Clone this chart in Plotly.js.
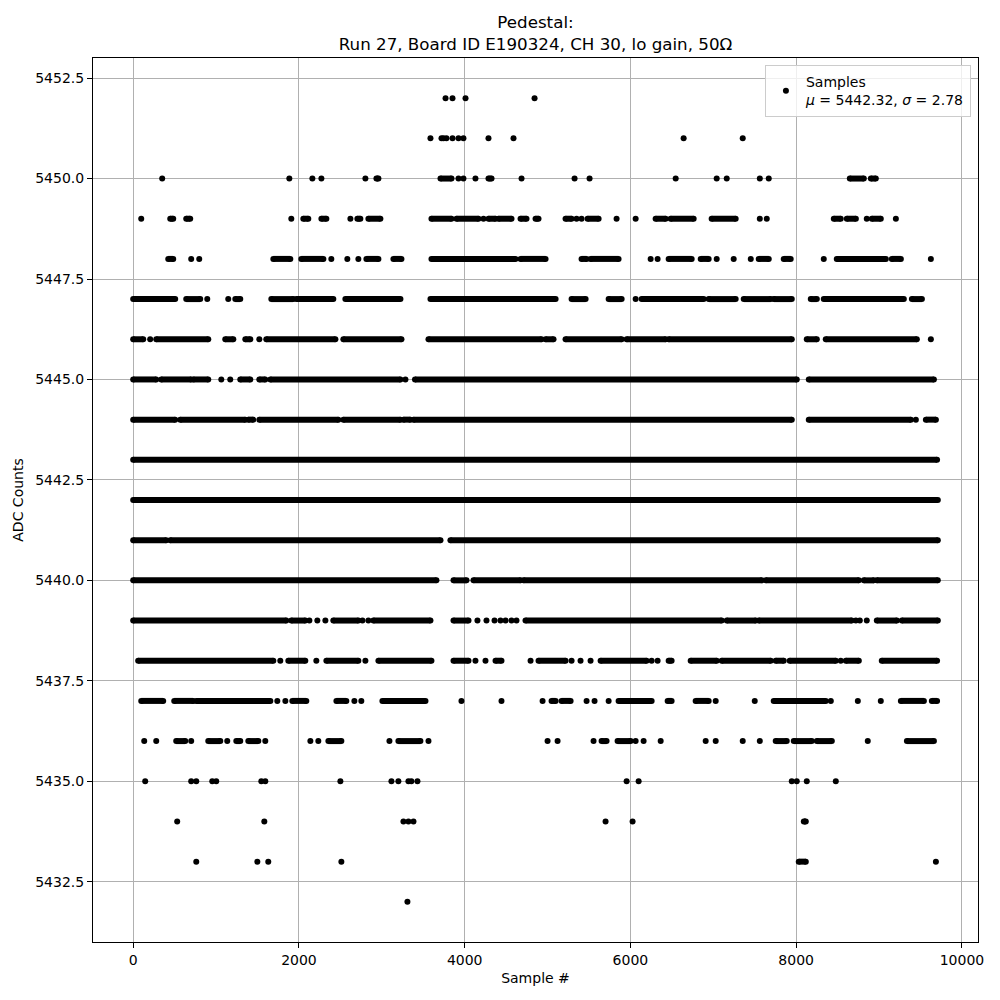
<!DOCTYPE html>
<html>
<head>
<meta charset="utf-8">
<script src="https://cdn.plot.ly/plotly-3.0.1.min.js"></script>
<style>html,body{margin:0;padding:0;background:#fff;}#plot{width:1000px;height:1000px;}</style>
</head>
<body>
<div id="plot"></div>
<script>
// ADC levels (counts) and, for each level, runs of sample indices [first, last]
const levels = [5452,5451,5450,5449,5448,5447,5446,5445,5444,5443,5442,5441,5440,5439,5438,5437,5436,5435,5434,5433,5432];

const runs5452 = [[3769,3769],[3853,3853],[4010,4010],[4843,4843]];
const runs5451 = [[3587,3587],[3720,3720],[3744,3744],[3780,3780],[3853,3853],[3925,3925],[3985,3985],[4287,4287],[4589,4589],[6642,6642],[7355,7355]];
const runs5450 = [[350,350],[1884,1884],[2162,2162],[2271,2271],[2802,2802],[2935,2959],[3708,3841],[3925,3925],[3985,3985],[4130,4130],[4287,4324],[4686,4686],[5326,5326],[5507,5507],[6546,6546],[7041,7041],[7162,7162],[7561,7561],[7669,7669],[8647,8816],[8901,8961]];
const runs5449 = [[97,97],[447,483],[640,688],[1908,1908],[2053,2113],[2271,2331],[2621,2621],[2705,2741],[2838,2983],[3599,3841],[3901,4167],[4227,4227],[4287,4372],[4408,4565],[4674,4746],[4855,4891],[5217,5290],[5350,5350],[5410,5410],[5483,5616],[5833,5833],[6063,6063],[6304,6425],[6485,6763],[6980,7270],[7561,7561],[7645,7645],[8454,8538],[8611,8720],[8852,8852],[8913,9021],[9203,9203]];
const runs5448 = [[423,483],[700,700],[797,797],[1691,1896],[2029,2295],[2391,2391],[2584,2584],[2717,2717],[2814,2959],[3140,3237],[3599,4613],[4674,4976],[5410,5471],[5519,5857],[6244,6244],[6328,6328],[6461,6739],[6848,6944],[7041,7041],[7246,7246],[7452,7452],[7548,7669],[7850,7934],[8333,8333],[8490,9082],[9154,9263],[9625,9625]];
const runs5447 = [[0,507],[640,809],[894,894],[1147,1147],[1232,1292],[1667,1932],[1969,2415],[2560,3225],[3587,5097],[5290,5459],[5737,5894],[6063,6063],[6135,6884],[6944,7270],[7367,7693],[7729,7947],[8176,8249],[8333,9299],[9396,9517]];
const runs5446 = [[0,121],[205,205],[278,906],[1111,1208],[1353,1413],[1522,1522],[1606,2440],[2536,3237],[3563,4927],[4976,5072],[5217,5894],[5954,6425],[6461,7947],[8128,8249],[8357,9456],[9625,9625]];
const runs5445 = [[0,278],[338,700],[725,906],[1063,1063],[1171,1171],[1292,1413],[1522,1594],[1655,3225],[3285,3285],[3400,8007],[8152,9662]];
const runs5444 = [[0,507],[568,1353],[1389,1449],[1522,2476],[2536,3225],[3261,3345],[3382,7947],[8152,9384],[9444,9444],[9565,9686]];
const runs5443 = [[0,9700]];
const runs5442 = [[0,9709]];
const runs5441 = [[0,399],[447,3708],[3828,9709]];
const runs5440 = [[0,3659],[3865,4022],[4106,4674],[4710,7585],[7633,8756],[8816,8937],[8973,9709]];
const runs5439 = [[0,1848],[1908,2077],[2126,2126],[2222,2222],[2319,2319],[2415,2717],[2766,2766],[2838,2838],[2898,3587],[3865,4046],[4154,4154],[4263,4263],[4360,4360],[4432,4432],[4493,4493],[4565,4565],[4625,4625],[4734,7101],[7162,7512],[7548,8671],[8720,8720],[8768,8768],[8852,8852],[8973,9215],[9275,9709]];
const runs5438 = [[60,1691],[1775,1775],[1872,2077],[2210,2210],[2331,2717],[2802,2802],[2959,3599],[3865,4046],[4130,4130],[4251,4251],[4372,4444],[4795,4795],[4891,5217],[5290,5290],[5398,5398],[5519,5519],[5640,6195],[6256,6256],[6328,6328],[6461,6497],[6727,7041],[7101,7693],[7753,7850],[7922,8478],[8538,8538],[8599,8756],[9033,9700]];
const runs5437 = [[97,362],[495,725],[761,1655],[1739,1739],[1836,1836],[1920,2089],[2452,2572],[2669,2669],[2753,2753],[3007,3527],[3961,3961],[4444,4444],[4940,4940],[5048,5097],[5169,5278],[5471,5471],[5567,5567],[5737,5737],[5857,6256],[6449,6497],[6787,6944],[7029,7029],[7500,7500],[7729,8357],[8418,8418],[8744,8744],[9021,9021],[9263,9541],[9637,9700]];
const runs5436 = [[133,133],[278,278],[519,628],[700,700],[906,1051],[1135,1135],[1244,1292],[1389,1510],[1594,1594],[2138,2138],[2234,2234],[2355,2512],[3092,3092],[3200,3466],[3563,3563],[5000,5000],[5121,5121],[5555,5555],[5652,5712],[5845,6002],[6063,6063],[6159,6159],[6365,6365],[6908,6908],[7029,7029],[7355,7355],[7561,7561],[7753,7886],[7971,8188],[8249,8430],[8864,8864],[9336,9662]];
const runs5435 = [[145,145],[700,700],[761,761],[954,954],[1002,1002],[1546,1546],[1594,1594],[2500,2500],[3116,3116],[3200,3200],[3321,3321],[3357,3357],[3430,3430],[5954,5954],[6099,6099],[7947,7947],[8007,8007],[8128,8128],[8478,8478]];
const runs5434 = [[531,531],[1582,1582],[3261,3261],[3321,3321],[3382,3382],[5700,5700],[6026,6026],[8092,8116]];
const runs5433 = [[761,761],[1498,1498],[1630,1630],[2512,2512],[8031,8116],[9686,9686]];
const runs5432 = [[3309,3309]];

const runsByLevel = [runs5452,runs5451,runs5450,runs5449,runs5448,runs5447,runs5446,runs5445,runs5444,runs5443,runs5442,runs5441,runs5440,runs5439,runs5438,runs5437,runs5436,runs5435,runs5434,runs5433,runs5432];

const xTicks = [0,2000,4000,6000,8000,10000];
const yTicks = [5432.5,5435,5437.5,5440,5442.5,5445,5447.5,5450,5452.5];

const lx = [], ly = [], mx = [], my = [];
levels.forEach((lv, i) => {
  runsByLevel[i].forEach(([a, b]) => {
    mx.push(a); my.push(lv);
    if (b !== a) {
      mx.push(b); my.push(lv);
      lx.push(a, b, null); ly.push(lv, lv, null);
    }
  });
});

const font = 'DejaVu Sans, sans-serif';
const traces = [
  {x: lx, y: ly, type: 'scatter', mode: 'lines', line: {color: '#000', width: 6}, hoverinfo: 'skip', showlegend: false},
  {x: mx, y: my, type: 'scatter', mode: 'markers', marker: {color: '#000', size: 6},
   name: 'Samples<br><i>μ</i> = 5442.32, <i>σ</i> = 2.78', showlegend: true}
];

const axisCommon = {
  showline: true, linecolor: '#000', linewidth: 1, mirror: true,
  ticks: 'outside', ticklen: 5, tickwidth: 1, tickcolor: '#000',
  showgrid: true, gridcolor: '#b0b0b0', gridwidth: 1, zeroline: false,
  tickfont: {family: font, size: 14, color: '#000'}
};

const layout = {
  width: 1000, height: 1000,
  paper_bgcolor: '#fff', plot_bgcolor: '#fff',
  margin: {l: 93, r: 22, t: 58, b: 58},
  font: {family: font, color: '#000'},
  title: {text: 'Pedestal:<br>Run 27, Board ID E190324, CH 30, lo gain, 50Ω',
          font: {family: font, size: 16.7, color: '#000'},
          xref: 'paper', x: 0.5, xanchor: 'center', yref: 'container', y: 0.972, yanchor: 'top'},
  xaxis: Object.assign({}, axisCommon, {
    range: [-485, 10194], tickvals: xTicks, ticktext: xTicks.map(String),
    title: {text: 'Sample #', font: {family: font, size: 14, color: '#000'}, standoff: 6}
  }),
  yaxis: Object.assign({}, axisCommon, {
    range: [5431, 5453], tickvals: yTicks, ticktext: yTicks.map(v => v.toFixed(1)),
    title: {text: 'ADC Counts', font: {family: font, size: 14, color: '#000'}, standoff: 8}
  }),
  legend: {x: 0.992, xanchor: 'right', y: 0.992, yanchor: 'top', xref: 'paper', yref: 'paper',
           bgcolor: 'rgba(255,255,255,0.8)', bordercolor: '#cccccc', borderwidth: 1,
           font: {family: font, size: 14, color: '#000'}, itemwidth: 30}
};

Plotly.newPlot('plot', traces, layout, {staticPlot: true, displayModeBar: false});
</script>
</body>
</html>
